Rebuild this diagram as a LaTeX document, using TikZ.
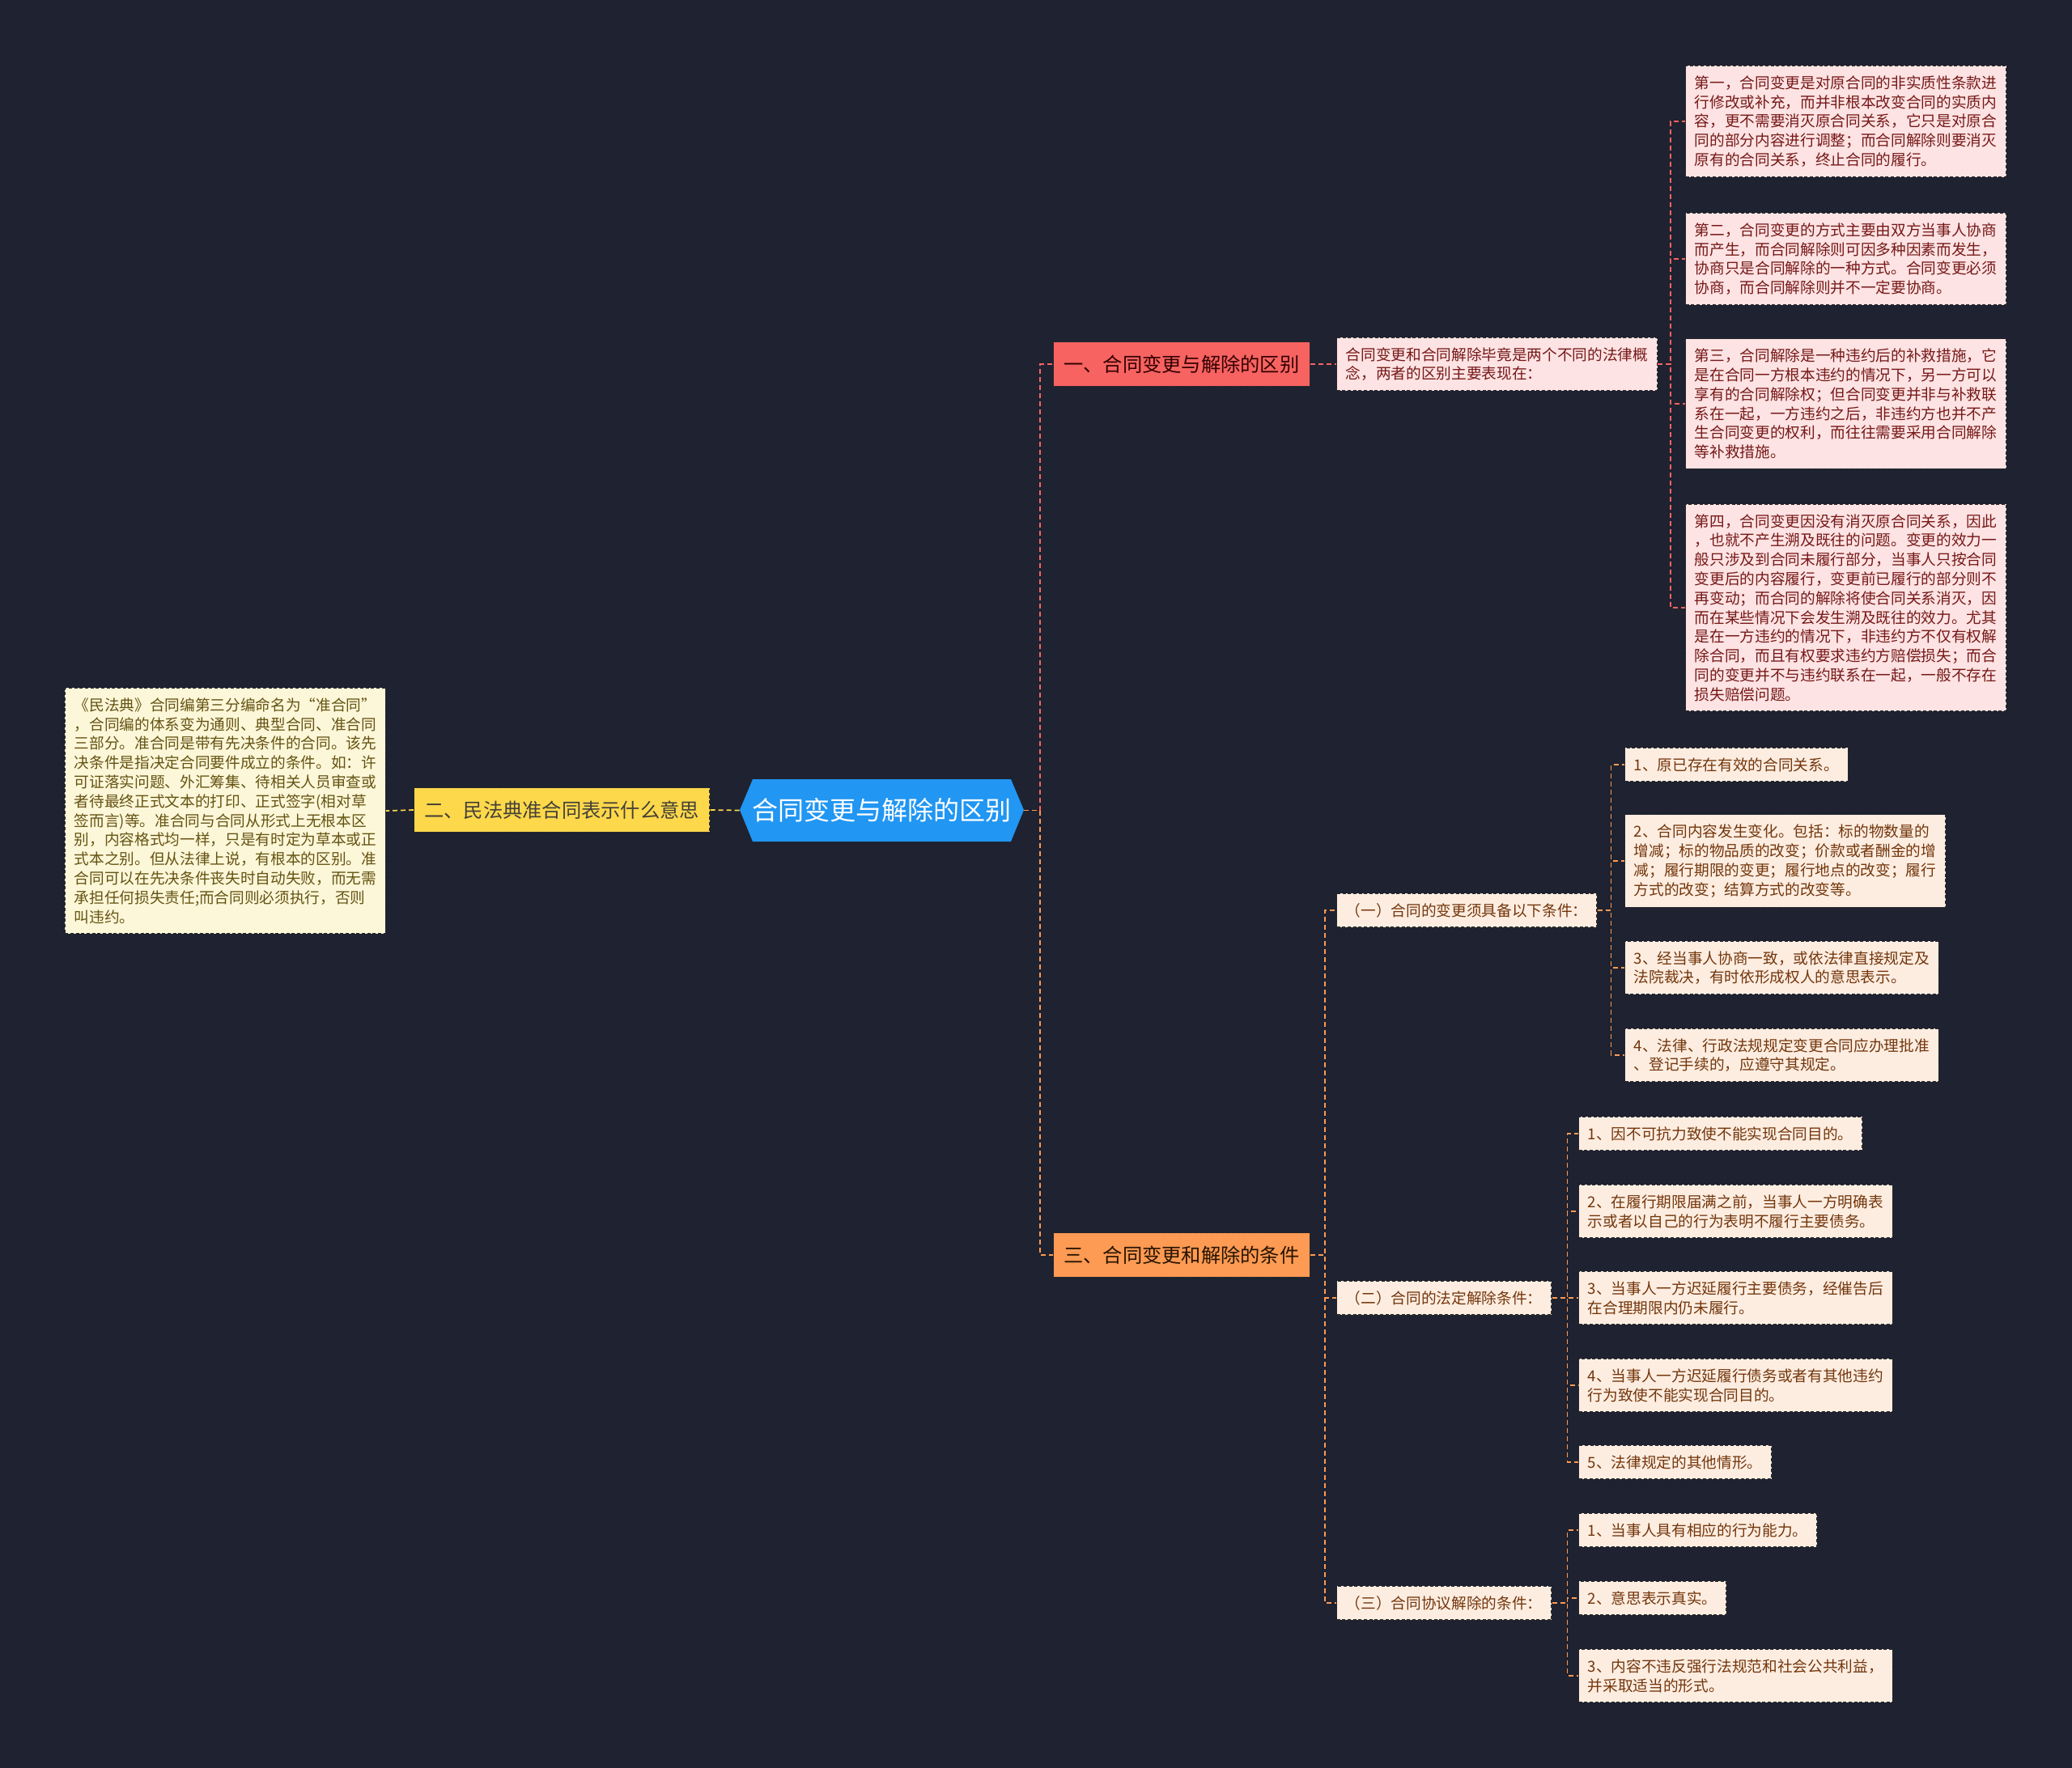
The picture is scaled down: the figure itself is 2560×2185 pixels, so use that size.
\documentclass[tikz,border=0pt]{standalone}
\usepackage{fontspec}
\setmainfont{Noto Sans CJK SC}

\definecolor{bgdark}{HTML}{1F2230}
\definecolor{rootblue}{HTML}{2196F3}
\definecolor{redcat}{HTML}{F76361}
\definecolor{orangecat}{HTML}{FD9A53}
\definecolor{yellowcat}{HTML}{FDD84B}
\definecolor{pinkleaf}{HTML}{FDE3E3}
\definecolor{peachleaf}{HTML}{FDEDE1}
\definecolor{creamleaf}{HTML}{FDF7D9}
\definecolor{pinktext}{HTML}{761818}
\definecolor{peachtext}{HTML}{73360B}
\definecolor{creamtext}{HTML}{645312}
\definecolor{edgedark}{HTML}{2A2A2A}

\tikzset{every picture/.style={line width=0.75pt}}
\tikzset{
  box/.style={draw=edgedark, dash pattern=on 3pt off 2pt, line width=0.9pt, align=left,
    inner xsep=8.5pt, inner ysep=9pt, font=\fontsize{14}{17.85}\selectfont},
  leafR/.style={box, fill=pinkleaf, text=pinktext},
  leafO/.style={box, fill=peachleaf, text=peachtext},
  leafY/.style={box, fill=creamleaf, text=creamtext},
  cat/.style={draw=edgedark, dash pattern=on 3pt off 2pt, line width=0.9pt,
    inner xsep=9.5pt, minimum height=41pt, font=\fontsize{18.2}{22}\selectfont},
  catR/.style={cat, fill=redcat, text=black!80!red},
  catO/.style={cat, fill=orangecat, text=black!85!orange},
  catY/.style={cat, fill=yellowcat, text=black!85!yellow},
  rootnode/.style={text=white, minimum width=263pt, minimum height=58pt,
    font=\fontsize{24}{28}\selectfont},
  link/.style={line width=1.3pt, dash pattern=on 4.5pt off 3pt},
  linkR/.style={link, draw=redcat},
  linkO/.style={link, draw=orangecat},
  linkY/.style={link, draw=yellowcat}
}

\begin{document}
\begin{tikzpicture}[x=0.75pt,y=0.75pt,yscale=-1,xscale=1]
        % background
        \fill[bgdark] (0,0) rectangle (2560,2185);

        % root
        \fill[rootblue] (914,1001) -- (930,963) -- (1249,963) -- (1265,1001) -- (1249,1040) -- (930,1040) -- cycle;
        \node[rootnode] (root) at (1089.5,1001.5) {合同变更与解除的区别};

        % main branches
        \node[catR, anchor=west] (diff) at (1301,450) {一、合同变更与解除的区别};
        \node[catY, anchor=west] (quasi) at (511,1001) {二、民法典准合同表示什么意思};
        \node[catO, anchor=west] (cond) at (1301,1551) {三、合同变更和解除的条件};

        % left text
        \node[leafY, anchor=east] (quasitxt) at (477,1002) {《民法典》合同编第三分编命名为“准合同”\\，合同编的体系变为通则、典型合同、准合同\\三部分。准合同是带有先决条件的合同。该先\\决条件是指决定合同要件成立的条件。如：许\\可证落实问题、外汇筹集、待相关人员审查或\\者待最终正式文本的打印、正式签字(相对草\\签而言)等。准合同与合同从形式上无根本区\\别，内容格式均一样，只是有时定为草本或正\\式本之别。但从法律上说，有根本的区别。准\\合同可以在先决条件丧失时自动失败，而无需\\承担任何损失责任;而合同则必须执行，否则\\叫违约。};

        % branch one
        \node[leafR, anchor=west] (diffintro) at (1651,450) {合同变更和合同解除毕竟是两个不同的法律概\\念，两者的区别主要表现在：};
        \node[leafR, anchor=west] (d1) at (2082,150) {第一，合同变更是对原合同的非实质性条款进\\行修改或补充，而并非根本改变合同的实质内\\容，更不需要消灭原合同关系，它只是对原合\\同的部分内容进行调整；而合同解除则要消灭\\原有的合同关系，终止合同的履行。};
        \node[leafR, anchor=west] (d2) at (2082,320) {第二，合同变更的方式主要由双方当事人协商\\而产生，而合同解除则可因多种因素而发生，\\协商只是合同解除的一种方式。合同变更必须\\协商，而合同解除则并不一定要协商。};
        \node[leafR, anchor=west] (d3) at (2082,499) {第三，合同解除是一种违约后的补救措施，它\\是在合同一方根本违约的情况下，另一方可以\\享有的合同解除权；但合同变更并非与补救联\\系在一起，一方违约之后，非违约方也并不产\\生合同变更的权利，而往往需要采用合同解除\\等补救措施。};
        \node[leafR, anchor=west] (d4) at (2082,751) {第四，合同变更因没有消灭原合同关系，因此\\，也就不产生溯及既往的问题。变更的效力一\\般只涉及到合同未履行部分，当事人只按合同\\变更后的内容履行，变更前已履行的部分则不\\再变动；而合同的解除将使合同关系消灭，因\\而在某些情况下会发生溯及既往的效力。尤其\\是在一方违约的情况下，非违约方不仅有权解\\除合同，而且有权要求违约方赔偿损失；而合\\同的变更并不与违约联系在一起，一般不存在\\损失赔偿问题。};

        % branch three
        \node[leafO, anchor=west] (c1) at (1651,1125) {（一）合同的变更须具备以下条件：};
        \node[leafO, anchor=west] (c2) at (1651,1604) {（二）合同的法定解除条件：};
        \node[leafO, anchor=west] (c3) at (1651,1981) {（三）合同协议解除的条件：};

        \node[leafO, anchor=west] (c1a) at (2007,945) {1、原已存在有效的合同关系。};
        \node[leafO, anchor=west] (c1b) at (2007,1064) {2、合同内容发生变化。包括：标的物数量的\\增减；标的物品质的改变；价款或者酬金的增\\减；履行期限的变更；履行地点的改变；履行\\方式的改变；结算方式的改变等。};
        \node[leafO, anchor=west] (c1c) at (2007,1196) {3、经当事人协商一致，或依法律直接规定及\\法院裁决，有时依形成权人的意思表示。};
        \node[leafO, anchor=west] (c1d) at (2007,1304) {4、法律、行政法规规定变更合同应办理批准\\、登记手续的，应遵守其规定。};

        \node[leafO, anchor=west] (c2a) at (1950,1401) {1、因不可抗力致使不能实现合同目的。};
        \node[leafO, anchor=west] (c2b) at (1950,1497) {2、在履行期限届满之前，当事人一方明确表\\示或者以自己的行为表明不履行主要债务。};
        \node[leafO, anchor=west] (c2c) at (1950,1604) {3、当事人一方迟延履行主要债务，经催告后\\在合理期限内仍未履行。};
        \node[leafO, anchor=west] (c2d) at (1950,1712) {4、当事人一方迟延履行债务或者有其他违约\\行为致使不能实现合同目的。};
        \node[leafO, anchor=west] (c2e) at (1950,1807) {5、法律规定的其他情形。};

        \node[leafO, anchor=west] (c3a) at (1950,1891) {1、当事人具有相应的行为能力。};
        \node[leafO, anchor=west] (c3b) at (1950,1975) {2、意思表示真实。};
        \node[leafO, anchor=west] (c3c) at (1950,2071) {3、内容不违反强行法规范和社会公共利益，\\并采取适当的形式。};

        % connectors
        \draw[linkR] (root.east) -- ++(20,0) |- (diff.west);
        \draw[linkO] (root.east) -- ++(20,0) |- (cond.west);
        \draw[linkY] (root.west) -- (quasi.east);
        \draw[linkY] (quasi.west) -- (quasitxt.east);
        \draw[linkR] (diff.east) -- (diffintro.west);
        \foreach \n in {d1,d2,d3,d4}
          \draw[linkR] (diffintro.east) -- ++(16,0) |- (\n.west);
        \foreach \n in {c1,c2,c3}
          \draw[linkO] (cond.east) -- ++(18,0) |- (\n.west);
        \foreach \n in {c1a,c1b,c1c,c1d}
          \draw[linkO] (c1.east) -- ++(17,0) |- (\n.west);
        \foreach \n in {c2a,c2b,c2c,c2d,c2e}
          \draw[linkO] (c2.east) -- ++(19,0) |- (\n.west);
        \foreach \n in {c3a,c3b,c3c}
          \draw[linkO] (c3.east) -- ++(19,0) |- (\n.west);

\end{tikzpicture}
\end{document}
